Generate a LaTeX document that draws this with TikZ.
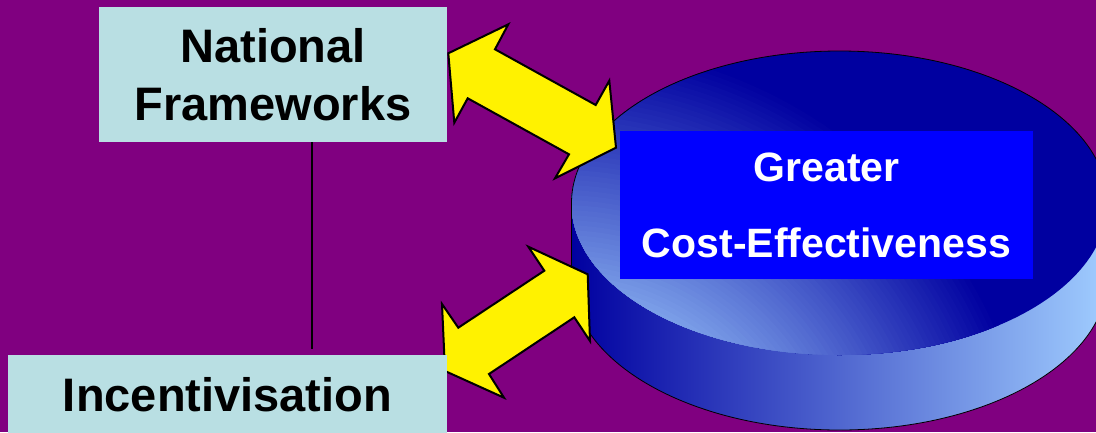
\documentclass[tikz,border=0pt]{standalone}
\usepackage{fontspec}
\setmainfont{Liberation Sans}
\usepackage{tikz}
\usetikzlibrary{positioning}
\definecolor{slidepurple}{RGB}{128,0,128}
\definecolor{paleblue}{RGB}{185,223,227}
\definecolor{navy}{RGB}{0,0,160}
\definecolor{skyblue}{RGB}{160,205,255}
\definecolor{lightblue}{RGB}{128,165,235}

\begin{document}
\begin{tikzpicture}[x=1pt, y=-1pt, box/.style={rectangle, fill=paleblue, inner sep=0pt, align=center, font=\fontsize{47}{58}\selectfont\bfseries}, bluebox/.style={rectangle, fill=blue, text=white, inner sep=0pt, align=center, font=\fontsize{41}{76}\selectfont\bfseries}, bigarrow/.style={fill=yellow, draw=black, line width=2pt}, rim/.style={draw=black, line width=0.8pt}]

    \clip (0,0) rectangle (1096,432);
    \fill[slidepurple] (0,0) rectangle (1096,432);

    %Cylinder
    \coordinate (cyl_top) at (839.5,203);
    \coordinate (glow) at (560,520);
    \shade[left color=navy, right color=skyblue] (571.5,203) -- (571.5,278) arc[start angle=180, end angle=0, x radius=268, y radius=152] -- (1107.5,203) -- cycle;
    \fill[navy] (cyl_top) ellipse[x radius=268, y radius=152];
    \begin{scope}
        \clip (cyl_top) ellipse[x radius=268, y radius=152];
        \foreach \k in {0,...,52}{
            \pgfmathsetmacro{\r}{480-5*\k}
            \pgfmathsetmacro{\p}{\k*100/52}
            \fill[lightblue!\p!navy] (glow) circle[radius=\r];
        }
    \end{scope}
    \draw[rim] (571.5,278) -- (571.5,203) arc[start angle=180, end angle=360, x radius=268, y radius=152] -- (1107.5,278) arc[start angle=0, end angle=180, x radius=268, y radius=152];

    %Arrows
    \draw[bigarrow] (448.3,53.3) -- (508.3,24.3) -- (495,49.3) -- (595.7,105) -- (609.3,80.7) -- (616,147.7) -- (555,178.3) -- (569,154.3) -- (467.7,98.3) -- (454.3,122.7) -- cycle;
    \draw[bigarrow] (528.3,246.7) -- (544.3,270.7) -- (458.3,327.7) -- (442,304) -- (445,371) -- (504,397.7) -- (489,374) -- (574.3,317.3) -- (590,341) -- (587.7,274.3) -- cycle;

    %Nodes
    \node[box, minimum width=348pt, minimum height=135pt](national) at (273,74.5){National\\Frameworks};
    \node[box, minimum width=439pt, minimum height=80pt](incent) at (227.5,395){Incentivisation};
    \node[bluebox, minimum width=413pt, minimum height=148pt](greater) at (826.5,205){Greater\\Cost-Effectiveness};

    %Lines
    \coordinate (line_end) at (311.7,349);
    \draw[line width=2pt] (line_end |- national.south) -- (line_end);

\end{tikzpicture}
\end{document}
